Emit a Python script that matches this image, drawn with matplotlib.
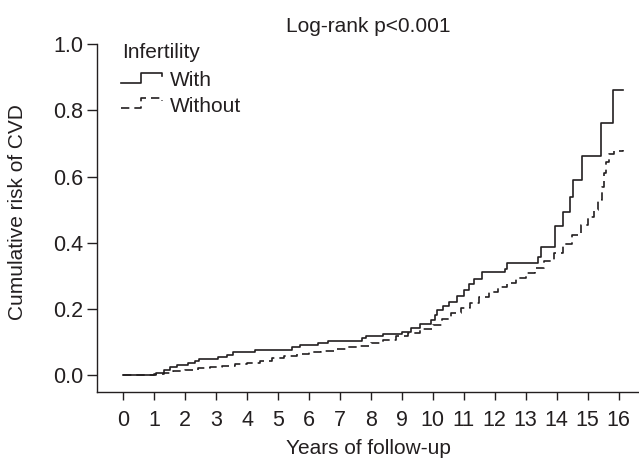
import numpy as np
import matplotlib
matplotlib.use('Agg')
import matplotlib.pyplot as plt

plt.rcParams['font.family'] = ['Liberation Sans', 'DejaVu Sans']

INK = '#231f20'

# cumulative risk (step points, steps-post)
with_t = [0, 1.05, 1.3, 1.5, 1.75, 2.1, 2.3, 2.45, 3.05, 3.35, 3.55, 4.25, 5.45, 5.7,
          6.3, 6.6, 7.7, 7.85, 8.4, 9.0, 9.3, 9.58, 9.95, 10.07, 10.15, 10.32, 10.53,
          10.77, 11.0, 11.18, 11.33, 11.58, 12.33, 12.4, 13.4, 13.5, 13.94, 14.21,
          14.43, 14.54, 14.83, 15.42, 15.83, 16.13]
with_risk = [0, 0.008, 0.016, 0.024, 0.031, 0.038, 0.044, 0.05, 0.056, 0.063, 0.07,
             0.077, 0.085, 0.091, 0.098, 0.104, 0.112, 0.118, 0.126, 0.131, 0.144,
             0.154, 0.166, 0.181, 0.196, 0.208, 0.221, 0.239, 0.259, 0.275, 0.292,
             0.312, 0.322, 0.339, 0.356, 0.388, 0.45, 0.492, 0.539, 0.591, 0.662,
             0.762, 0.862, 0.862]

without_t = [0, 1.0, 1.3, 1.6, 2.0, 2.4, 2.8, 3.2, 3.6, 4.0, 4.4, 4.8, 5.2, 5.6, 6.0,
             6.4, 6.8, 7.2, 7.6, 8.0, 8.4, 8.8, 9.2, 9.6, 10.0, 10.3, 10.6, 10.9, 11.2,
             11.5, 11.8, 12.1, 12.4, 12.7, 13.0, 13.3, 13.6, 13.9, 14.2, 14.5, 14.8,
             15.0, 15.2, 15.35, 15.45, 15.52, 15.6, 15.68, 15.85, 16.13]
without_risk = [0, 0.003, 0.008, 0.012, 0.017, 0.021, 0.025, 0.029, 0.034, 0.039,
                0.044, 0.052, 0.058, 0.066, 0.071, 0.075, 0.08, 0.085, 0.09, 0.099,
                0.108, 0.12, 0.129, 0.141, 0.153, 0.17, 0.187, 0.203, 0.22, 0.238,
                0.252, 0.267, 0.28, 0.295, 0.31, 0.325, 0.345, 0.37, 0.396, 0.425,
                0.455, 0.478, 0.5, 0.53, 0.57, 0.61, 0.645, 0.668, 0.678, 0.68]

x_ticks = list(range(0, 17))
y_ticks = [0.0, 0.2, 0.4, 0.6, 0.8, 1.0]

fig = plt.figure(figsize=(6.39, 4.59), dpi=100)
ax = fig.add_axes([97 / 639, 67 / 459, 542 / 639, 348 / 459])

ax.plot(with_t, with_risk, drawstyle='steps-post', color=INK, lw=1.2)
ax.plot(without_t, without_risk, drawstyle='steps-post', color=INK, lw=1.2,
        linestyle=(0, (5, 3)))

ax.set_xlim(-0.85, 16.66)
ax.set_ylim(-0.05, 1.0)
ax.set_xticks(x_ticks)
ax.set_yticks(y_ticks)
ax.set_yticklabels([f'{v:.1f}' for v in y_ticks])

for s in ['top', 'right']:
    ax.spines[s].set_visible(False)
for s in ['left', 'bottom']:
    ax.spines[s].set_color(INK)
    ax.spines[s].set_linewidth(1.0)
ax.tick_params(axis='both', colors=INK, labelsize=15.5, width=1.0, direction='out')
ax.tick_params(axis='y', pad=3, length=7)
ax.tick_params(axis='x', pad=7, length=6)

ax.set_xlabel('Years of follow-up', fontsize=15, color=INK, labelpad=6)
ax.set_ylabel('Cumulative risk of CVD', fontsize=15, color=INK)
ax.yaxis.set_label_coords(-0.13, 0.517)

ax.text(0.5, 1.035, 'Log-rank p<0.001', transform=ax.transAxes, ha='center',
        va='baseline', fontsize=15, color=INK)

# hand-drawn legend with step-shaped keys
tr = ax.transAxes
ax.text(0.0456, 0.959, 'Infertility', transform=tr, fontsize=15, color=INK, va='baseline')
ax.plot([0.0435, 0.0804, 0.0804, 0.1194, 0.1194], [0.887, 0.887, 0.918, 0.918, 0.907],
        transform=tr, color=INK, lw=1.2, clip_on=False)
ax.text(0.1347, 0.878, 'With', transform=tr, fontsize=15, color=INK, va='baseline')
ax.plot([0.0435, 0.0804, 0.0804, 0.1194, 0.1194], [0.817, 0.817, 0.846, 0.846, 0.835],
        transform=tr, color=INK, lw=1.2, linestyle=(0, (5, 3)), clip_on=False)
ax.text(0.1347, 0.805, 'Without', transform=tr, fontsize=15, color=INK, va='baseline')

fig.savefig('out.png', dpi=100)
